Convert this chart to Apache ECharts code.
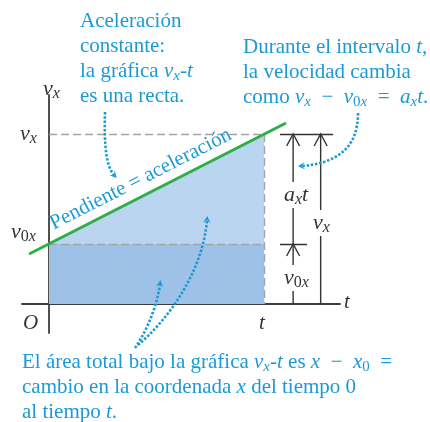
<!DOCTYPE html>
<html>
<head>
<meta charset="utf-8">
<script src="https://cdn.jsdelivr.net/npm/echarts@6/dist/echarts.min.js"></script>
<style>
  html, body { margin: 0; background: #fff; }
  #chart { width: 430px; height: 422px; }
</style>
</head>
<body>
<div id="chart"></div>
<script>
// v_x - t graph for constant acceleration
const times = [0, 10];          // 0 and t
const speeds = [3, 8.5];        // v0x and vx
const slopeT = [-0.93, 11.02];  // visible ends of the green line
const slopeV = [2.5, 9.05];

const FONT = '"Liberation Serif", "DejaVu Serif", serif';
const BLUE = '#1b9ad6';
const INK = '#333333';
const AXIS = '#3d3d3d';
const SP = '\u2002'; // wider space around math operators

const chart = echarts.init(document.getElementById('chart'));

const t0 = times[0], t1 = times[1];
const v0 = speeds[0], v1 = speeds[1];

// dimension arrows to the right of the graph: [t position, from, to]
const dimA = 11.35, dimB = 12.63;
const dims = [[dimA, 0, v0], [dimA, v0, v1], [dimB, 0, v1]];
const ticks = [
  { coords: [[10.74, v1], [13.21, v1]] },
  { coords: [[10.74, v0], [12.0, v0]] }
];
const guides = [
  { coords: [[t0, v1], [t1, v1]] },
  { coords: [[t1, v1], [t1, 0]] },
  { coords: [[t0, v0], [t1, v0]] }
];

function rich(color, size) {
  const sub = Math.round(size * 0.72);
  return {
    i: { fontFamily: FONT, fontStyle: 'italic', fontSize: size, fill: color, lineHeight: size + 4 },
    s: { fontFamily: FONT, fontStyle: 'italic', fontSize: sub, fill: color, lineHeight: sub - 2, verticalAlign: 'bottom' },
    z: { fontFamily: FONT, fontSize: sub, fill: color, lineHeight: sub - 2, verticalAlign: 'bottom' }
  };
}

function label(x, y, text, color, size, extra) {
  return {
    type: 'text', x: x, y: y, z: 100,
    style: Object.assign({
      text: text, fill: color, fontFamily: FONT, fontSize: size, lineHeight: size + 4,
      rich: rich(color, size), align: 'left', verticalAlign: 'top'
    }, extra || {})
  };
}

// dotted curved pointer with a small filled head
function pointer(p0, c1, c2, p1) {
  let dx = p1[0] - c2[0], dy = p1[1] - c2[1];
  const len = Math.sqrt(dx * dx + dy * dy);
  dx /= len; dy /= len;
  const tip = [p1[0] + dx * 4, p1[1] + dy * 4];
  const back = [p1[0] - dx * 3, p1[1] - dy * 3];
  return [
    {
      type: 'bezierCurve', z: 90,
      shape: { x1: p0[0], y1: p0[1], cpx1: c1[0], cpy1: c1[1], cpx2: c2[0], cpy2: c2[1], x2: p1[0], y2: p1[1] },
      style: { stroke: BLUE, lineWidth: 2.6, lineDash: [2.5, 1.7], fill: null }
    },
    {
      type: 'polygon', z: 90,
      shape: { points: [tip, [back[0] - dy * 3.8, back[1] + dx * 3.8], p1, [back[0] + dy * 3.8, back[1] - dx * 3.8]] },
      style: { fill: BLUE }
    }
  ];
}

const texts = [
  label(80, 9, 'Aceleración\nconstante:\nla gráfica {i|v}{s|x}-{i|t}\nes una recta.', BLUE, 21),
  label(243, 35, 'Durante el intervalo {i|t},\nla velocidad cambia\ncomo {i|v}{s|x}' + SP + '−' + SP + '{i|v}{z|0}{s|x}' + SP + '=' + SP + '{i|a}{s|x}{i|t}.', BLUE, 21),
  label(22, 350, 'El área total bajo la gráfica {i|v}{s|x}-{i|t} es {i|x}' + SP + '−' + SP + '{i|x}{z|0}' + SP + '=\ncambio en la coordenada {i|x} del tiempo 0\nal tiempo {i|t}.', BLUE, 21),
  label(43, 76, '{i|v}{s|x}', INK, 22),
  label(20, 121, '{i|v}{s|x}', INK, 22),
  label(11, 219, '{i|v}{z|0}{s|x}', INK, 22),
  label(23, 311, '{i|O}', INK, 21),
  label(259, 311, '{i|t}', INK, 21),
  label(344, 290, '{i|t}', INK, 21),
  label(284, 182, '{i|a}{s|x}{i|t}', INK, 22, { backgroundColor: '#fff', lineHeight: 23 }),
  label(313, 210, '{i|v}{s|x}', INK, 22, { backgroundColor: '#fff', lineHeight: 23 }),
  label(284, 265, '{i|v}{z|0}{s|x}', INK, 22, { backgroundColor: '#fff', lineHeight: 23 })
];

const pointers = [].concat(
  pointer([105, 112], [104, 145], [106, 166], [114, 175]),
  pointer([358, 113], [358, 150], [335, 163], [302, 166]),
  pointer([138, 345], [170, 318], [203, 270], [207, 220]),
  pointer([135, 348], [150, 326], [158, 300], [160, 284])
);

const option = {
  animation: false,
  backgroundColor: '#fff',
  grid: { left: 22, top: 95, width: 318, height: 238 },
  xAxis: {
    type: 'value', min: -1.26, max: 13.53,
    axisLine: { onZero: true, lineStyle: { color: AXIS, width: 1.8 } },
    axisTick: { show: false }, axisLabel: { show: false }, splitLine: { show: false }
  },
  yAxis: {
    type: 'value', min: -1.45, max: 10.45,
    axisLine: { show: true, onZero: true, lineStyle: { color: AXIS, width: 1.8 } },
    axisTick: { show: false }, axisLabel: { show: false }, splitLine: { show: false }
  },
  series: [
    {
      type: 'line', name: 'area', z: 1,
      data: times.map((t, i) => [t, speeds[i]]),
      showSymbol: false, lineStyle: { width: 0 },
      areaStyle: { color: '#bad5ef', opacity: 1 }
    },
    {
      type: 'line', name: 'base', z: 1,
      data: times.map(t => [t, v0]),
      showSymbol: false, lineStyle: { width: 0 },
      areaStyle: { color: '#9ec2e7', opacity: 1 }
    },
    {
      type: 'lines', coordinateSystem: 'cartesian2d', z: 2, silent: true,
      data: guides,
      lineStyle: { color: '#a3a3a3', width: 1.4, type: [8, 4], opacity: 1 }
    },
    {
      type: 'line', name: 'slope', z: 3,
      data: slopeT.map((t, i) => [t, slopeV[i]]),
      showSymbol: false, lineStyle: { color: '#2eae49', width: 3 }
    },
    {
      type: 'lines', coordinateSystem: 'cartesian2d', z: 2, silent: true,
      data: ticks,
      lineStyle: { color: INK, width: 1.4, opacity: 1 }
    },
    {
      type: 'custom', z: 2, silent: true,
      data: dims,
      encode: { x: 0, y: [1, 2] },
      renderItem: function (params, api) {
        const a = api.coord([api.value(0), api.value(1)]);
        const b = api.coord([api.value(0), api.value(2)]);
        return {
          type: 'group',
          children: [
            { type: 'line', shape: { x1: a[0], y1: a[1], x2: b[0], y2: b[1] }, style: { stroke: INK, lineWidth: 1.4 } },
            { type: 'polyline', shape: { points: [[b[0] - 6.5, b[1] + 12], [b[0], b[1]], [b[0] + 6.5, b[1] + 12]] },
              style: { stroke: INK, lineWidth: 1.4, fill: null } }
          ]
        };
      }
    }
  ],
  graphic: texts.concat(pointers)
};

chart.setOption(option);

// slope label placed just above the green line
const pA = chart.convertToPixel({ gridIndex: 0 }, [slopeT[0], slopeV[0]]);
const pB = chart.convertToPixel({ gridIndex: 0 }, [slopeT[1], slopeV[1]]);
const ang = Math.atan2(pA[1] - pB[1], pB[0] - pA[0]);
const mid = chart.convertToPixel({ gridIndex: 0 }, [4.6, v0 + (v1 - v0) * 0.46]);
const lift = 16;
chart.setOption({
  graphic: texts.concat(pointers, [{
    type: 'text', z: 100, rotation: ang,
    x: mid[0] - Math.sin(ang) * lift, y: mid[1] - Math.cos(ang) * lift,
    style: {
      text: 'Pendiente = aceleración', fill: BLUE, fontFamily: FONT, fontSize: 21,
      align: 'center', verticalAlign: 'middle'
    }
  }])
});
</script>
</body>
</html>
